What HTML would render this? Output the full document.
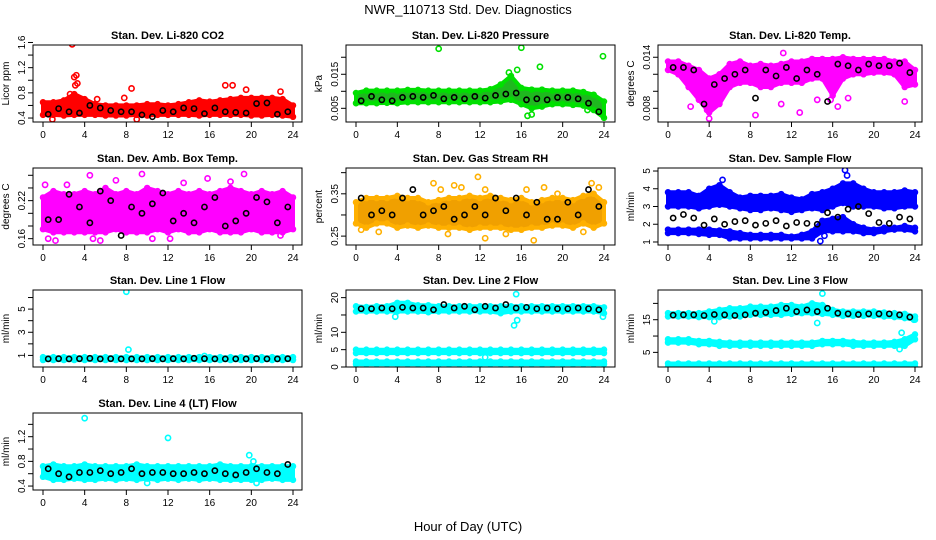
<!DOCTYPE html>
<html><head><meta charset="utf-8"><style>
html,body{margin:0;padding:0;background:#fff}
svg{display:block;font-family:"Liberation Sans",sans-serif}
</style></head><body>
<svg id="chart" width="936" height="540">
<text x="468" y="14" text-anchor="middle" font-size="13">NWR_110713  Std. Dev. Diagnostics</text>
<text x="468" y="531" text-anchor="middle" font-size="13">Hour of Day (UTC)</text>
</svg>
<script>
const hours=[0,1,2,3,4,5,6,7,8,9,10,11,12,13,14,15,16,17,18,19,20,21,22,23,24];
const blackHours=[0.5,1.5,2.5,3.5,4.5,5.5,6.5,7.5,8.5,9.5,10.5,11.5,12.5,13.5,14.5,15.5,16.5,17.5,18.5,19.5,20.5,21.5,22.5,23.5];
const xTicks=[0,4,8,12,16,20,24];

// Panel 1 CO2
const co2Lo=[0.45,0.45,0.44,0.45,0.45,0.45,0.44,0.44,0.44,0.45,0.44,0.45,0.45,0.45,0.45,0.44,0.45,0.45,0.45,0.45,0.44,0.44,0.45,0.44,0.42];
const co2Hi=[0.65,0.65,0.68,0.78,0.7,0.62,0.6,0.6,0.6,0.6,0.62,0.62,0.6,0.62,0.65,0.68,0.66,0.68,0.7,0.72,0.72,0.72,0.72,0.7,0.6];
const co2OutX=[2.8,3.0,3.2,3.3,3.1,7.8,8.5,18.2,17.5,19.5,22.8,5.2,0.9,9.0,2.6];
const co2OutY=[1.57,1.05,1.08,0.95,0.92,0.72,0.87,0.92,0.92,0.85,0.82,0.7,0.38,0.38,0.78];
const co2Black=[0.46,0.55,0.5,0.48,0.6,0.56,0.52,0.5,0.5,0.45,0.42,0.52,0.5,0.56,0.55,0.47,0.56,0.5,0.49,0.48,0.63,0.64,0.46,0.5];
// Panel 2 Pressure
const presLo=[0.0065,0.0065,0.0065,0.0066,0.0065,0.0068,0.0068,0.0068,0.0068,0.0068,0.0068,0.0068,0.0068,0.0068,0.007,0.0075,0.0062,0.005,0.0055,0.0062,0.0062,0.006,0.0058,0.0045,0.0022];
const presHi=[0.0095,0.0102,0.0102,0.0102,0.0102,0.0104,0.0104,0.0102,0.0102,0.0102,0.0102,0.0102,0.0102,0.0106,0.012,0.0145,0.011,0.0105,0.0105,0.0102,0.0102,0.0102,0.0098,0.009,0.007];
const presOutX=[8,16,23.9,15.6,17.8,17,16.6,14.8,22.4];
const presOutY=[0.0225,0.0228,0.0203,0.0163,0.0172,0.0032,0.0028,0.0155,0.0045];
const presBlack=[0.0072,0.0085,0.0075,0.0072,0.0082,0.0085,0.0082,0.0088,0.0078,0.0082,0.0078,0.0085,0.008,0.0088,0.0092,0.0095,0.0075,0.0078,0.0075,0.0082,0.0082,0.0078,0.0065,0.004];
// Panel 3 Temp
const tempLo=[0.0125,0.012,0.0105,0.009,0.0075,0.0085,0.0105,0.011,0.011,0.0105,0.0105,0.011,0.011,0.011,0.0115,0.0115,0.0095,0.0115,0.012,0.012,0.0122,0.0122,0.012,0.0105,0.0108];
const tempHi=[0.0135,0.0135,0.013,0.0125,0.0115,0.012,0.0132,0.0135,0.013,0.0132,0.013,0.0132,0.0135,0.0135,0.0138,0.0138,0.0138,0.014,0.0138,0.0138,0.0138,0.0138,0.0135,0.0135,0.0125];
const tempOutX=[4.0,8.5,11.0,11.2,12.8,14.5,17.5,23.0,15.8,16.5,2.2,3.8];
const tempOutY=[0.0068,0.0072,0.0085,0.0145,0.0075,0.009,0.0092,0.0088,0.009,0.0082,0.0082,0.0078];
const tempBlack=[0.0128,0.0128,0.0125,0.0085,0.0108,0.0115,0.012,0.0125,0.0092,0.0125,0.0118,0.0128,0.0115,0.0125,0.012,0.0088,0.0132,0.013,0.0125,0.0132,0.013,0.013,0.0133,0.0122];
// Panel 4 Amb box temp
const ambLo=[0.175,0.17,0.17,0.17,0.17,0.17,0.17,0.175,0.17,0.17,0.17,0.175,0.17,0.175,0.17,0.17,0.175,0.17,0.17,0.17,0.175,0.17,0.17,0.17,0.175];
const ambHi=[0.225,0.235,0.23,0.23,0.235,0.23,0.24,0.23,0.235,0.23,0.24,0.235,0.23,0.235,0.23,0.235,0.23,0.235,0.24,0.235,0.23,0.235,0.23,0.235,0.225];
const ambOutX=[0.2,4.5,9.5,15.8,19.3,0.5,1.2,4.8,5.5,10.5,12.2,2.3,22.8,7.0,13.5,18.0];
const ambOutY=[0.245,0.26,0.262,0.255,0.262,0.16,0.157,0.16,0.157,0.16,0.16,0.245,0.165,0.252,0.248,0.25];
const ambBlack=[0.19,0.19,0.23,0.21,0.185,0.235,0.22,0.165,0.21,0.2,0.215,0.232,0.188,0.2,0.185,0.21,0.225,0.18,0.188,0.2,0.225,0.218,0.185,0.21];
// Panel 5 Gas RH
const rhLo=[0.28,0.27,0.28,0.28,0.27,0.275,0.27,0.275,0.27,0.27,0.27,0.265,0.27,0.27,0.27,0.265,0.265,0.27,0.27,0.275,0.275,0.27,0.28,0.27,0.28];
const rhHi=[0.33,0.34,0.34,0.34,0.345,0.34,0.34,0.33,0.335,0.34,0.34,0.345,0.34,0.345,0.34,0.335,0.34,0.33,0.335,0.34,0.34,0.335,0.345,0.35,0.33];
const rhOutX=[7.5,8.2,9.5,10.2,11.8,12.5,16.5,18.2,19.5,22.8,23.5,0.5,2.2,8.9,12.5,17.2,14.5,22.0];
const rhOutY=[0.375,0.36,0.37,0.365,0.39,0.36,0.36,0.365,0.35,0.375,0.365,0.265,0.26,0.255,0.245,0.24,0.255,0.26];
const rhBlack=[0.34,0.3,0.31,0.3,0.34,0.36,0.3,0.31,0.32,0.29,0.3,0.32,0.3,0.34,0.31,0.34,0.3,0.33,0.29,0.29,0.33,0.3,0.36,0.32];
// Panel 6 Sample flow
const sfUpLo=[3.0,3.0,3.0,2.9,3.0,3.1,3.0,2.9,2.8,2.8,2.9,2.8,2.7,2.8,2.9,2.8,3.0,3.2,3.0,3.0,3.0,2.9,2.9,3.0,3.0];
const sfUpHi=[3.8,3.8,3.8,3.6,4.0,4.2,3.8,3.5,3.6,3.6,3.6,3.7,3.5,3.4,3.7,3.8,4.0,4.3,4.3,4.0,3.8,3.8,3.8,3.9,3.8];
const sfLowLo=[1.5,1.5,1.5,1.45,1.4,1.4,1.2,1.2,1.2,1.2,1.2,1.2,1.2,1.2,1.2,1.6,1.6,1.6,1.6,1.5,1.5,1.6,1.7,1.7,1.6];
const sfLowHi=[1.7,1.7,1.7,1.7,1.7,1.65,1.6,1.5,1.4,1.4,1.4,1.4,1.3,1.4,1.6,2.2,2.3,2.4,2.0,1.8,1.7,1.8,1.8,1.9,1.8];
const sfOutX=[17.2,17.4,14.8,15.2,5.3];
const sfOutY=[5.05,4.75,1.05,1.35,4.5];
const sfBlack=[2.35,2.55,2.35,1.95,2.3,2.0,2.15,2.2,1.95,2.05,2.2,1.9,2.1,2.05,2.0,2.65,2.4,2.85,3.0,2.6,2.1,2.05,2.4,2.3];
// Panel 7 Line 1
const l1Lo=[0.6,0.6,0.6,0.6,0.6,0.6,0.6,0.6,0.6,0.6,0.6,0.6,0.6,0.6,0.6,0.6,0.6,0.6,0.6,0.6,0.6,0.6,0.6,0.6,0.6];
const l1Hi=[0.85,0.85,0.85,0.85,0.85,0.85,0.85,0.85,0.85,0.85,0.85,0.85,0.85,0.85,0.85,0.85,0.85,0.85,0.85,0.85,0.85,0.85,0.85,0.85,0.85];
const l1OutX=[8,8.2,15.5];
const l1OutY=[6.5,1.5,0.95];
const l1Black=[0.7,0.72,0.7,0.72,0.75,0.7,0.72,0.7,0.7,0.7,0.72,0.7,0.72,0.7,0.75,0.72,0.7,0.7,0.7,0.7,0.72,0.7,0.7,0.72];
// Panel 8 Line 2
const l2ALo=[16,16,16,16,16,16,16,15.8,16,16,16,16,16,16,15.5,16,16,16,16,16,16,16,16,16,15.5];
const l2AHi=[17.5,17.3,17.5,17.5,18.5,18.5,17.8,17.8,17.5,17.5,17.5,17.5,17.5,17.5,17.5,17.5,17.5,17.5,17.5,17.5,17.5,17.5,17.5,17.5,17.2];
const l2BLo=[4,4,4,4,4,4,4,4,4,4,4,4,4,4,4,4,4,4,4,4,4,4,4,4,4];
const l2BHi=[5,5,5,5,5,5,5,5,5,5,5,5,5,5,5,5,5,5,5,5,5,5,5,5,5];
const l2CLo=[0.8,0.8,0.8,0.8,0.8,0.8,0.8,0.8,0.8,0.8,0.8,0.8,0.8,0.8,0.8,0.8,0.8,0.8,0.8,0.8,0.8,0.8,0.8,0.8,0.8];
const l2CHi=[1.6,1.6,1.6,1.6,1.6,1.6,1.6,1.6,1.6,1.6,1.6,1.6,1.6,1.6,1.6,1.6,1.6,1.6,1.6,1.6,1.6,1.6,1.6,1.6,1.6];
const l2OutX=[15.5,15.3,3.8,23.9,15.6,12.5];
const l2OutY=[21,12,14.5,14.5,13.5,2.8];
const l2Black=[16.8,16.8,17,16.8,17.2,17,17,16.5,18,17,17.5,16.5,17.5,17,18,17,17.2,16.8,17,16.8,16.8,17,16.8,16.5];
// Panel 9 Line 3
const l3ALo=[16,16,16,15.8,15.8,15.8,16,16,16.5,16.5,16.5,16.5,16.8,17,17,16.8,16.5,16.2,16.2,16.2,16.2,16,15.8,15.5,15];
const l3AHi=[17,17,17,17,17.5,18,18.5,18.5,19,19,19,19.5,19.5,19,20,19.5,18,17.5,17.5,17.5,17.5,17.2,17,16.8,16];
const l3BLo=[8,8,8,7.5,7.5,7,7,7,7,7,7,7,7,7,7,7.5,7.5,7.5,7,7,7,7,7,7,9];
const l3BHi=[9,9,9,8.5,8.5,8.2,8,8,8,8,8,8,8,8,8,8.5,8.5,8.5,8.2,8,8,8,8.2,9,10.5];
const l3CLo=[0.6,0.6,0.6,0.6,0.6,0.6,0.6,0.6,0.6,0.6,0.6,0.6,0.6,0.6,0.6,0.6,0.6,0.6,0.6,0.6,0.6,0.6,0.6,0.6,0.6];
const l3CHi=[1.6,1.6,1.6,1.6,1.6,1.6,1.6,1.6,1.6,1.6,1.6,1.6,1.6,1.6,1.6,1.6,1.6,1.6,1.6,1.6,1.6,1.6,1.6,1.6,1.6];
const l3OutX=[15,14.5,4.5,22.7,22.5,23.9];
const l3OutY=[23,14,14.5,11,6,15];
const l3Black=[16.4,16.5,16.5,16.3,16.6,16.5,16.3,16.5,17,17.2,17.8,18.5,17.5,18,17.5,18.5,17.0,16.8,16.6,16.8,16.8,16.8,16.5,15.8];
// Panel 10 Line 4
const l4Lo=[0.55,0.5,0.5,0.52,0.5,0.5,0.52,0.5,0.52,0.5,0.52,0.5,0.52,0.5,0.52,0.5,0.52,0.5,0.5,0.5,0.5,0.5,0.52,0.5,0.5];
const l4Hi=[0.72,0.75,0.72,0.72,0.75,0.72,0.72,0.72,0.72,0.75,0.72,0.72,0.72,0.72,0.72,0.72,0.72,0.75,0.72,0.72,0.72,0.72,0.72,0.72,0.72];
const l4OutX=[4,12,19.8,20.2,10,20.5];
const l4OutY=[1.5,1.18,0.9,0.8,0.45,0.45];
const l4Black=[0.68,0.6,0.55,0.62,0.62,0.65,0.6,0.62,0.68,0.6,0.62,0.62,0.6,0.6,0.62,0.6,0.65,0.6,0.58,0.62,0.68,0.62,0.6,0.75];

const NS='http://www.w3.org/2000/svg';
const svg=document.getElementById('chart');
const cols=[{l:33,r:302,x0:43,x24:293},{l:346,r:615,x0:356,x24:604},{l:658,r:922,x0:668,x24:915}];
const rowTops=[45,168,290,413];
const BH=77;
function mk(tag,attrs,parent){const e=document.createElementNS(NS,tag);for(const k in attrs)e.setAttribute(k,attrs[k]);(parent||svg).appendChild(e);return e;}

function panel(p){
  const c=cols[p.col],top=rowTops[p.row],bot=top+BH;
  const g=mk('g',{});
  
  
  const xs=h=>c.x0+(c.x24-c.x0)*h/24;
  const ys=v=>bot-(v-p.ymin)/(p.ymax-p.ymin)*BH;
  const clip='clip'+p.name;
  const cp=mk('clipPath',{id:clip},g);mk('rect',{x:c.l,y:top,width:c.r-c.l,height:BH},cp);
  const plot=mk('g',{'clip-path':'url(#'+clip+')'},g);
  p.bands.forEach((b,bi)=>{
    let d='M';
    hours.forEach((h,i)=>{d+=xs(h).toFixed(1)+','+ys(b.hi[i]).toFixed(1)+' L';});
    for(let i=hours.length-1;i>=0;i--){d+=xs(hours[i]).toFixed(1)+','+ys(b.lo[i]).toFixed(1)+(i?' L':' Z');}
    const band=mk('path',{d:d,fill:p.fill,stroke:p.color,'stroke-width':4,'stroke-linejoin':'round'},plot);
    
    
    hours.forEach((h,i)=>{
      [b.lo[i],b.hi[i]].forEach(v=>{
        const pt=mk('circle',{cx:xs(h),cy:ys(v),r:2.5,fill:'none',stroke:p.color,'stroke-width':1.5},plot);
        
        
      });
    });
  });
  p.outX.forEach((h,i)=>{
    const pt=mk('circle',{cx:xs(h),cy:ys(p.outY[i]),r:2.6,fill:'none',stroke:p.color,'stroke-width':1.6},plot);
    
    
  });
  blackHours.forEach((h,i)=>{
    const pt=mk('circle',{cx:xs(h),cy:ys(p.black[i]),r:2.6,fill:'none',stroke:'#000','stroke-width':1.6},plot);
    
    
  });
  const box=mk('rect',{x:c.l,y:top,width:c.r-c.l,height:BH,fill:'none',stroke:'#000','stroke-width':1},g);
  
  
  const t=mk('text',{x:(c.l+c.r)/2,y:top-6,'text-anchor':'middle','font-size':11,'font-weight':'bold'},g);
  t.textContent=p.title;
  
  
  xTicks.forEach(h=>{
    mk('line',{x1:xs(h),x2:xs(h),y1:bot,y2:bot+5,stroke:'#000'},g);
    const tl=mk('text',{x:xs(h),y:bot+16,'text-anchor':'middle','font-size':10},g);
    tl.textContent=h;
    
    
  });
  p.yticks.forEach((v,i)=>{
    const y=ys(v);
    mk('line',{x1:c.l,x2:c.l-5,y1:y,y2:y,stroke:'#000'},g);
    if(p.ylabels[i]){
      const yl=mk('text',{x:c.l-8,y:y,'text-anchor':'middle','font-size':10,transform:'rotate(-90 '+(c.l-8)+' '+y+')'},g);
      yl.textContent=p.ylabels[i];
      
      
    }
  });
  const ya=mk('text',{x:c.l-24,y:(top+bot)/2,'text-anchor':'middle','font-size':10,transform:'rotate(-90 '+(c.l-24)+' '+((top+bot)/2)+')'},g);
  ya.textContent=p.ylab;
  
  
}

panel({name:'panel-co2',col:0,row:0,title:'Stan. Dev. Li-820 CO2',ylab:'Licor ppm',ymin:0.337,ymax:1.56,yticks:[0.4,0.6,0.8,1.0,1.2,1.4,1.6],ylabels:['0.4','','0.8','','1.2','','1.6'],color:'#ff0000',fill:'#ff0000',bands:[{lo:co2Lo,hi:co2Hi}],outX:co2OutX,outY:co2OutY,black:co2Black});
panel({name:'panel-pressure',col:1,row:0,title:'Stan. Dev. Li-820 Pressure',ylab:'kPa',ymin:0.00098,ymax:0.0236,yticks:[0.005,0.010,0.015,0.020],ylabels:['0.005','','0.015',''],color:'#00e000',fill:'#1fb81f',bands:[{lo:presLo,hi:presHi}],outX:presOutX,outY:presOutY,black:presBlack});
panel({name:'panel-temp',col:2,row:0,title:'Stan. Dev. Li-820 Temp.',ylab:'degrees C',ymin:0.00639,ymax:0.01544,yticks:[0.008,0.010,0.012,0.014],ylabels:['0.008','','','0.014'],color:'#ff00ff',fill:'#ff00ff',bands:[{lo:tempLo,hi:tempHi}],outX:tempOutX,outY:tempOutY,black:tempBlack});
panel({name:'panel-amb-temp',col:0,row:1,title:'Stan. Dev. Amb. Box Temp.',ylab:'degrees C',ymin:0.150,ymax:0.2715,yticks:[0.16,0.18,0.20,0.22,0.24,0.26],ylabels:['0.16','','','0.22','',''],color:'#ff00ff',fill:'#ff00ff',bands:[{lo:ambLo,hi:ambHi}],outX:ambOutX,outY:ambOutY,black:ambBlack});
panel({name:'panel-gas-rh',col:1,row:1,title:'Stan. Dev. Gas Stream RH',ylab:'percent',ymin:0.229,ymax:0.411,yticks:[0.25,0.30,0.35,0.40],ylabels:['0.25','','0.35',''],color:'#ffb000',fill:'#f0a000',bands:[{lo:rhLo,hi:rhHi}],outX:rhOutX,outY:rhOutY,black:rhBlack});
panel({name:'panel-sample-flow',col:2,row:1,title:'Stan. Dev. Sample Flow',ylab:'ml/min',ymin:0.83,ymax:5.17,yticks:[1,2,3,4,5],ylabels:['1','2','3','4','5'],color:'#0000ff',fill:'#0000ff',bands:[{lo:sfUpLo,hi:sfUpHi},{lo:sfLowLo,hi:sfLowHi}],outX:sfOutX,outY:sfOutY,black:sfBlack});
panel({name:'panel-line1',col:0,row:2,title:'Stan. Dev. Line 1 Flow',ylab:'ml/min',ymin:0.0,ymax:6.65,yticks:[1,2,3,4,5,6],ylabels:['1','','3','','5',''],color:'#00ffff',fill:'#00ffff',bands:[{lo:l1Lo,hi:l1Hi}],outX:l1OutX,outY:l1OutY,black:l1Black});
panel({name:'panel-line2',col:1,row:2,title:'Stan. Dev. Line 2 Flow',ylab:'ml/min',ymin:0,ymax:22.2,yticks:[0,5,10,15,20],ylabels:['0','5','10','','20'],color:'#00ffff',fill:'#00ffff',bands:[{lo:l2ALo,hi:l2AHi},{lo:l2BLo,hi:l2BHi},{lo:l2CLo,hi:l2CHi}],outX:l2OutX,outY:l2OutY,black:l2Black});
panel({name:'panel-line3',col:2,row:2,title:'Stan. Dev. Line 3 Flow',ylab:'ml/min',ymin:0.52,ymax:24.1,yticks:[5,10,15,20],ylabels:['5','','15',''],color:'#00ffff',fill:'#00ffff',bands:[{lo:l3ALo,hi:l3AHi},{lo:l3BLo,hi:l3BHi},{lo:l3CLo,hi:l3CHi}],outX:l3OutX,outY:l3OutY,black:l3Black});
panel({name:'panel-line4',col:0,row:3,title:'Stan. Dev. Line 4 (LT) Flow',ylab:'ml/min',ymin:0.336,ymax:1.584,yticks:[0.4,0.6,0.8,1.0,1.2,1.4],ylabels:['0.4','','0.8','','1.2',''],color:'#00ffff',fill:'#00ffff',bands:[{lo:l4Lo,hi:l4Hi}],outX:l4OutX,outY:l4OutY,black:l4Black});
</script>
</body></html>
